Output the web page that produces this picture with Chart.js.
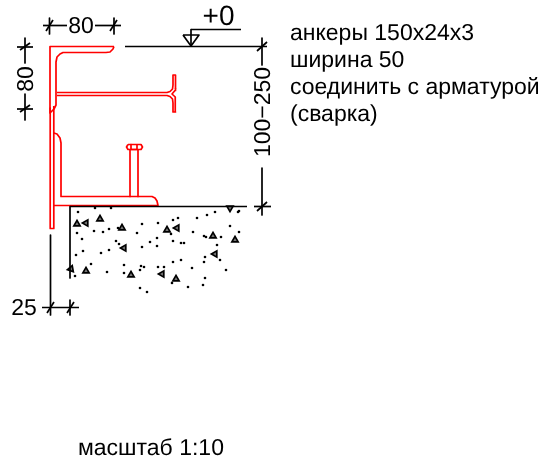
<!DOCTYPE html>
<html><head><meta charset="utf-8">
<style>html,body{margin:0;padding:0;background:#fff;overflow:hidden}canvas{display:block}</style>
<script src="https://cdn.jsdelivr.net/npm/chart.js@4"></script></head>
<body><canvas id="c" width="545" height="463"></canvas>
<script>
// Drawing values, in sheet units, as flat x,y lists
const redTopAngle=[114,46.5,50,46.5,50,113,51,112,54,109,56,105,56,62,57,57,60,54,63,52.5,106,52.5,110,52,113,49,114,46.5];
const redWebUpper=[57,92.5,167,92.5,170,91.5,172.5,89,173,85,173,75,175.5,75,175.5,88];
const redWebLower=[57,95.5,167,95.5,170,96.5,172.5,99,173,103,173,112,175.5,112,175.5,100,175,97,172,94,175,90.5,175.5,88];
const redPlateLeft=[50.2,108,50.2,228.5,53.8,228.5,53.8,106];
const redLowerAngle=[53.8,133,57,134,60,138,61,143,61,196.5,152,196.5,155,198,157,201,158,205.5,53.8,205.5];
const redBoltLeft=[130,150,130,196.5];
const redBoltRight=[138,150,138,196.5];
const redBoltHead=[128,144.5,141,144.5,142.5,147,141,149.5,128,149.5,126.5,147,128,144.5];
const redBoltCore=[131,144.5,131,149.5,137,149.5,137,144.5];
const dimLines=[
 [43,25.5,67,25.5],[95,25.5,121,25.5],[49.5,18,49.5,34],[114,18,114,34],[46,31,53,20],[110,31,117,20],
 [25,38,25,63],[25,94,25,120],[17,47,33,47],[17,109,33,109],[20,50,30,43],[20,112,30,105],
 [125,46.5,267,46.5],[262,38,262,65],[262,168,262,215],[254,206.5,271,206.5],[257,211,267,202],[257,51,267,42],
 [183,35,199,35,191,46,183,35],[191,29.5,191,46],[191,29.5,241,29.5],
 [70,206.5,247,206.5],[70,206.5,70,278],
 [50.5,235,50.5,315],[70,300,70,315],[42,307.5,79,307.5],[47,313,54,302],[67,313,74,302]
];
const concreteDots=[[78,212],[95,208],[111,208],[77,233],[82,239],[94,231],[103,232],[109,229],[118,228],[142,224],[158,223],[173,220],[178,218],[197,218],[207,215],[215,212],[230,226],[238,212],[239,211],[239,232],[137,233],[157,238],[150,242],[157,246],[142,247],[116,241],[119,244],[173,241],[181,243],[184,243],[193,232],[204,236],[206,237],[221,237],[217,245],[171,234],[83,251],[76,255],[101,253],[109,250],[205,257],[204,262],[220,260],[226,270],[192,268],[173,262],[181,260],[91,264],[124,265],[124,273],[141,266],[144,267],[140,270],[158,267],[164,267],[107,272],[75,276],[140,288],[147,292],[172,283],[188,287],[203,285],[205,278]];
const concreteTriangles=[[77,224],[86,223],[100,219],[122,228],[167,230],[177,228],[124,248],[213,236],[235,240],[215,254],[86,271],[131,275],[162,274],[176,279],[230,208],[71,269]];
const triangleTurns=[0,-90,0,0,0,-90,-90,0,0,-90,0,0,-90,0,180,20];
const textLabels=["80","80","+0","100−250","25","анкеры 150х24х3","ширина 50","соединить с арматурой","(сварка)","масштаб 1:10"];
const textSpots=[[81,33,23,0],[33,79,23,-90],[218.5,25,28,0],[270,112,23,-90],[24,315,23,0],[290,40,23,0],[290,67,23,0],[290,94,23,0],[290,121,23,0],[78,455,23,0]];

const toPoints=f=>{const p=[];for(let i=0;i<f.length;i+=2)p.push({x:f[i],y:f[i+1]});return p;};
const lineSet=(f,color,w)=>({type:'scatter',data:toPoints(f),showLine:true,borderColor:color,borderWidth:w,pointRadius:0,fill:false,tension:0,borderJoinStyle:'round'});
const redLists=[redTopAngle,redWebUpper,redWebLower,redPlateLeft,redLowerAngle,redBoltLeft,redBoltRight,redBoltHead,redBoltCore];
const datasets=[
 ...dimLines.map(f=>lineSet(f,'#000',1.7)),
 ...redLists.map(f=>lineSet(f,'#ff0000',1.7)),
 {type:'scatter',data:concreteDots.map(d=>({x:d[0],y:d[1]})),pointStyle:'circle',pointRadius:1.3,backgroundColor:'#000',borderWidth:0},
 {type:'scatter',data:concreteTriangles.map(d=>({x:d[0],y:d[1]})),pointStyle:'triangle',pointRadius:3.6,backgroundColor:'#777',borderColor:'#000',borderWidth:1.7,rotation:triangleTurns}
];
const textPlugin={id:'sheetText',afterDraw(chart){
 const g=chart.ctx,xs=chart.scales.x,ys=chart.scales.y;
 textLabels.forEach((t,i)=>{const s=textSpots[i];
  g.save();g.translate(xs.getPixelForValue(s[0]),ys.getPixelForValue(s[1]));g.rotate(s[3]*Math.PI/180);
  g.textRendering='geometricPrecision';
  g.font=s[2]+'px "Liberation Sans"';g.fillStyle='#000';g.textBaseline='alphabetic';g.textAlign=i>=5?'left':'center';
  g.fillText(t,0,0);g.restore();});
}};
new Chart(document.getElementById('c'),{type:'scatter',data:{datasets},plugins:[textPlugin],options:{
 responsive:false,animation:false,devicePixelRatio:1,layout:{padding:0,autoPadding:false},
 plugins:{legend:{display:false},tooltip:{enabled:false},title:{display:false}},
 scales:{x:{type:'linear',min:0,max:545,display:false},y:{type:'linear',min:0,max:463,reverse:true,display:false}}
}});
</script></body></html>
